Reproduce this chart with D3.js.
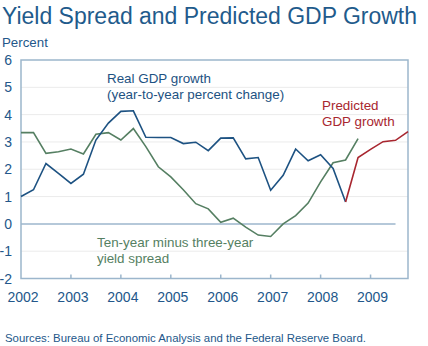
<!DOCTYPE html>
<html>
<head>
<meta charset="utf-8">
<script src="https://cdn.jsdelivr.net/npm/d3@7"></script>
<style>
  body { margin: 0; background: #fff; }
  svg text { font-family: "Liberation Sans", Arial, sans-serif; }
</style>
</head>
<body>
<div id="chart"></div>
<script>
// quarterly, starting 2002 Q1
var gdpGrowth = [1.00, 1.25, 2.21, 1.85, 1.48, 1.82, 3.07, 3.69, 4.12, 4.14,
  3.17, 3.16, 3.16, 2.94, 2.99, 2.68, 3.14, 3.15, 2.38, 2.43,
  1.23, 1.78, 2.74, 2.31, 2.53, 2.03, 0.80];
var yieldSpread = [3.34, 3.34, 2.58, 2.64, 2.74, 2.56, 3.28, 3.34, 3.07, 3.49,
  2.83, 2.09, 1.72, 1.25, 0.74, 0.55, 0.06, 0.21, -0.12, -0.41,
  -0.46, 0.00, 0.30, 0.76, 1.54, 2.24, 2.34, 3.12];
// predicted, starting 2008 Q3
var predicted = [0.80, 2.43, 2.73, 3.01, 3.06, 3.38];
var predictedStart = 2008.5;
var years = [2002, 2003, 2004, 2005, 2006, 2007, 2008, 2009];
var yTicks = [-2, -1, 0, 1, 2, 3, 4, 5, 6];

var width = 428, height = 346;
var blue = "#1d5282", green = "#557f62", red = "#a8262f", axisCol = "#9cb6cc", textCol = "#23578a";

var svg = d3.select("#chart").append("svg")
  .attr("width", width)
  .attr("height", height);

var x = d3.scaleLinear().domain([2002, 2009.75]).range([21, 408]);
var y = d3.scaleLinear().domain([-2, 6]).range([278.5, 60]);

function quarterly(vals, start) {
  return vals.map(function (v, i) { return { t: start + i * 0.25, v: v }; });
}

// title
svg.append("text")
  .attr("x", 2).attr("y", 24)
  .attr("font-size", 23.3)
  .attr("textLength", 415)
  .attr("lengthAdjust", "spacingAndGlyphs")
  .attr("fill", "#1f5b8c")
  .text("Yield Spread and Predicted GDP Growth");

svg.append("text")
  .attr("x", 2).attr("y", 47)
  .attr("font-size", 13.3)
  .attr("fill", textCol)
  .text("Percent");

// gridlines
svg.append("g").selectAll("line")
  .data(yTicks.filter(function (d) { return d != 0 && d != -2 && d != 6; }))
  .join("line")
  .attr("x1", x(2002)).attr("x2", x(2009.75))
  .attr("y1", function (d) { return y(d); })
  .attr("y2", function (d) { return y(d); })
  .attr("stroke", "#ebebeb")
  .attr("stroke-width", 1);

// zero line
svg.append("line")
  .attr("x1", x(2002)).attr("x2", x(2009.5))
  .attr("y1", y(0)).attr("y2", y(0))
  .attr("stroke", axisCol).attr("stroke-width", 1.5);

// box
svg.append("rect")
  .attr("x", x(2002)).attr("y", y(6))
  .attr("width", x(2009.75) - x(2002))
  .attr("height", y(-2) - y(6))
  .attr("fill", "none")
  .attr("stroke", axisCol).attr("stroke-width", 1.5);

// y labels
svg.append("g").selectAll("text")
  .data(yTicks)
  .join("text")
  .attr("x", 12)
  .attr("y", function (d) { return y(d) + 5; })
  .attr("text-anchor", "end")
  .attr("font-size", 14)
  .attr("fill", textCol)
  .text(function (d) { return d; });

// x ticks + labels
svg.append("g").selectAll("line")
  .data(years.slice(1))
  .join("line")
  .attr("x1", function (d) { return x(d); })
  .attr("x2", function (d) { return x(d); })
  .attr("y1", y(-2)).attr("y2", y(-2) - 4)
  .attr("stroke", axisCol).attr("stroke-width", 1.5);

svg.append("g").selectAll("text")
  .data(years)
  .join("text")
  .attr("x", function (d) { return x(d) + 2; })
  .attr("y", 302)
  .attr("text-anchor", "middle")
  .attr("font-size", 14)
  .attr("fill", textCol)
  .text(function (d) { return d; });

var line = d3.line()
  .x(function (d) { return x(d.t); })
  .y(function (d) { return y(d.v); });

svg.append("path")
  .datum(quarterly(yieldSpread, 2002))
  .attr("d", line)
  .attr("fill", "none").attr("stroke", green).attr("stroke-width", 1.6);

svg.append("path")
  .datum(quarterly(gdpGrowth, 2002))
  .attr("d", line)
  .attr("fill", "none").attr("stroke", blue).attr("stroke-width", 1.6);

svg.append("path")
  .datum(quarterly(predicted, predictedStart))
  .attr("d", line)
  .attr("fill", "none").attr("stroke", red).attr("stroke-width", 1.6);

// annotations
function label(lines, px, py, col) {
  svg.append("text")
    .attr("font-size", 13.4)
    .attr("fill", col)
    .selectAll("tspan")
    .data(lines)
    .join("tspan")
    .attr("x", px)
    .attr("y", function (d, i) { return py + i * 16; })
    .text(function (d) { return d; });
}
label(["Real GDP growth", "(year-to-year percent change)"], 107, 83, blue);
label(["Predicted", "GDP growth"], 322, 110, red);
label(["Ten-year minus three-year", "yield spread"], 97, 247, green);

svg.append("text")
  .attr("x", 5).attr("y", 342)
  .attr("font-size", 11.4)
  .attr("fill", textCol)
  .text("Sources: Bureau of Economic Analysis and the Federal Reserve Board.");
</script>
</body>
</html>
